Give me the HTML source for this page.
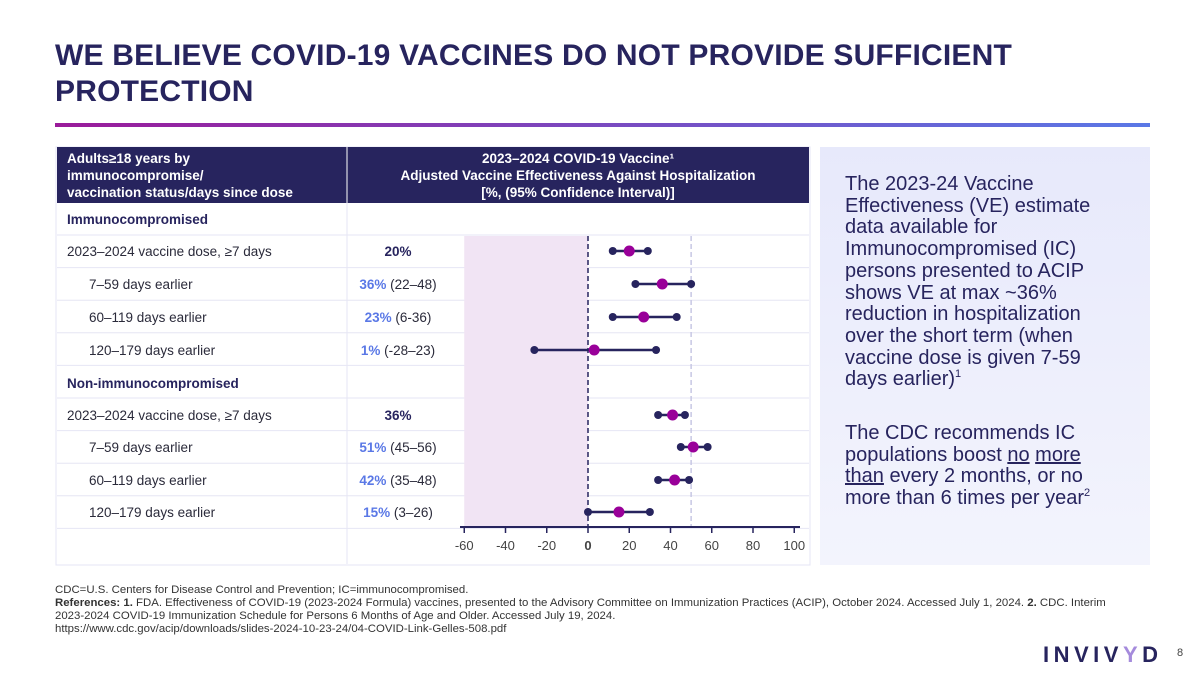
<!DOCTYPE html>
<html><head><meta charset="utf-8"><style>
body{margin:0;width:1200px;height:675px;background:#fff;font-family:"Liberation Sans",sans-serif;position:relative;overflow:hidden;color:#24224f}
.a{position:absolute}
h1{position:absolute;left:55px;top:38px;margin:0;font-size:30px;line-height:36px;font-weight:bold;color:#27245e;letter-spacing:0.2px}
.foot{font-size:11.4px;color:#333;line-height:13px;white-space:nowrap}
.st{font-size:20px;line-height:21.7px;color:#27245e;white-space:nowrap}
.sp{font-size:11px;position:relative;top:-8px;line-height:0;vertical-align:baseline}
</style></head><body>
<h1>WE BELIEVE COVID-19 VACCINES DO NOT PROVIDE SUFFICIENT<br>PROTECTION</h1>
<div class="a" style="left:55px;top:123px;width:1095px;height:4px;background:linear-gradient(90deg,#9a1b9a,#5a78e6)"></div>

<div class="a" style="left:820px;top:147px;width:330px;height:418px;background:linear-gradient(180deg,#e7e9fb,#f3f4fd);">
<div class="a st" style="left:25px;top:27px;">The 2023-24 Vaccine<br>Effectiveness (VE) estimate<br>data available for<br>Immunocompromised (IC)<br>persons presented to ACIP<br>shows VE at max ~36%<br>reduction in hospitalization<br>over the short term (when<br>vaccine dose is given 7-59<br>days earlier)<span class="sp">1</span></div>
<div class="a st" style="left:25px;top:276px;">The CDC recommends IC<br>populations boost <u>no</u> <u>more</u><br><u>than</u> every 2 months, or no<br>more than 6 times per year<span class="sp">2</span></div>
</div>

<svg class="a" style="left:0;top:0" width="1200" height="675">
<g id="tbl"></g>
</svg>

<div class="a foot" style="left:55px;top:584px;width:1080px">CDC=U.S. Centers for Disease Control and Prevention; IC=immunocompromised.<br><b>References: 1.</b> FDA. Effectiveness of COVID-19 (2023-2024 Formula) vaccines, presented to the Advisory Committee on Immunization Practices (ACIP), October 2024. Accessed July 1, 2024. <b>2.</b> CDC. Interim<br>2023-2024 COVID-19 Immunization Schedule for Persons 6 Months of Age and Older. Accessed July 19, 2024.<br>https://www.cdc.gov/acip/downloads/slides-2024-10-23-24/04-COVID-Link-Gelles-508.pdf</div>
<div class="a" style="left:1043px;top:642px;font-size:22px;font-weight:bold;letter-spacing:4.5px;color:#27245e;white-space:nowrap">INVIV<span style="color:#a58bdc">Y</span>D</div>
<div class="a" style="left:1177px;top:647px;font-size:11px;color:#444">8</div>

<script>
const labels=["2023–2024 vaccine dose, ≥7 days","7–59 days earlier","60–119 days earlier","120–179 days earlier","2023–2024 vaccine dose, ≥7 days","7–59 days earlier","60–119 days earlier","120–179 days earlier"];
const veText=["20%","36%","23%","1%","36%","51%","42%","15%"];
const ciText=["","(22–48)","(6-36)","(-28–23)","","(45–56)","(35–48)","(3–26)"];
const est=[20,36,27,3,41,51,42,15];
const lo=[12,23,12,-26,34,45,34,0];
const hi=[29,50,43,33,47,58,49,30];
const ticks=[-60,-40,-20,0,20,40,60,80,100];
const NS="http://www.w3.org/2000/svg";
const g=document.getElementById('tbl');
const x=v=>588+(v-0)*2.0625;
function el(t,a,p){const e=document.createElementNS(NS,t);for(const k in a)e.setAttribute(k,a[k]);(p||g).appendChild(e);return e;}
function tx(s,X,Y,a){const e=el('text',Object.assign({x:X,y:Y,'font-size':13,fill:'#2a2a3a','font-family':'Liberation Sans, sans-serif'},a));e.textContent=s;return e;}
el('rect',{x:56,y:147,width:754,height:418,fill:'#fff',stroke:'#e4e4f4'});
const hdr=el('rect',{x:57,y:147,width:752,height:56,fill:'#27245e'});


el('line',{x1:347,y1:147,x2:347,y2:203,stroke:'#fff'});
[["Adults≥18 years by",163],["immunocompromise/",180],["vaccination status/days since dose",197]].forEach(r=>tx(r[0],67,r[1],{fill:'#fff','font-weight':'bold','font-size':13.5}));
[["2023–2024 COVID-19 Vaccine¹",163],["Adjusted Vaccine Effectiveness Against Hospitalization",180],["[%, (95% Confidence Interval)]",197]].forEach(r=>tx(r[0],578,r[1],{fill:'#fff','font-weight':'bold','font-size':13.5,'text-anchor':'middle'}));
const rowY=[251,284,317,350,415,447,480,512];
for(let y=235;y<=532;y+=32.6) el('line',{x1:57,y1:y,x2:809,y2:y,stroke:'#e6e6f4'});
el('line',{x1:347,y1:203,x2:347,y2:564,stroke:'#e6e6f4'});
const band=el('rect',{x:x(-60),y:236,width:x(0)-x(-60),height:292,fill:'#f1e4f4'});


el('line',{x1:x(0),y1:236,x2:x(0),y2:528,stroke:'#27245e','stroke-width':1.5,'stroke-dasharray':'5,3'});
el('line',{x1:x(50),y1:236,x2:x(50),y2:528,stroke:'#c8c8e4','stroke-width':1.5,'stroke-dasharray':'5,3'});
tx("Immunocompromised",67,224,{'font-weight':'bold','font-size':13.5,fill:'#27245e'});
tx("Non-immunocompromised",67,388,{'font-weight':'bold','font-size':13.5,fill:'#27245e'});
labels.forEach((l,i)=>{
  const ind=(i%4===0)?67:89;
  tx(l,ind,rowY[i]+5,{'font-size':13.5});
  const t=el('text',{x:398,y:rowY[i]+5,'font-size':13.5,'text-anchor':'middle','font-family':'Liberation Sans, sans-serif'});
  const a=document.createElementNS(NS,'tspan');a.textContent=veText[i];
  a.setAttribute('font-weight','bold');a.setAttribute('fill',i%4===0?'#27245e':'#5a78e6');t.appendChild(a);
  if(ciText[i]){const b=document.createElementNS(NS,'tspan');b.textContent=' '+ciText[i];b.setAttribute('fill','#2a2a3a');t.appendChild(b);}
  const grp=el('g',{});
  
  
  el('line',{x1:x(lo[i]),y1:rowY[i],x2:x(hi[i]),y2:rowY[i],stroke:'#27245e','stroke-width':2.5},grp);
  el('circle',{cx:x(lo[i]),cy:rowY[i],r:4,fill:'#27245e'},grp);
  el('circle',{cx:x(hi[i]),cy:rowY[i],r:4,fill:'#27245e'},grp);
  el('circle',{cx:x(est[i]),cy:rowY[i],r:5.5,fill:'#990099'},grp);
});
const ax=el('line',{x1:460,y1:527,x2:800,y2:527,stroke:'#27245e','stroke-width':2});


ticks.forEach(t=>{el('line',{x1:x(t),y1:527,x2:x(t),y2:533,stroke:'#27245e','stroke-width':1.5});
 tx(String(t),x(t),550,{'text-anchor':'middle','font-size':13,fill:'#444','font-weight':t===0?'bold':'normal'});});
</script>
</body></html>
